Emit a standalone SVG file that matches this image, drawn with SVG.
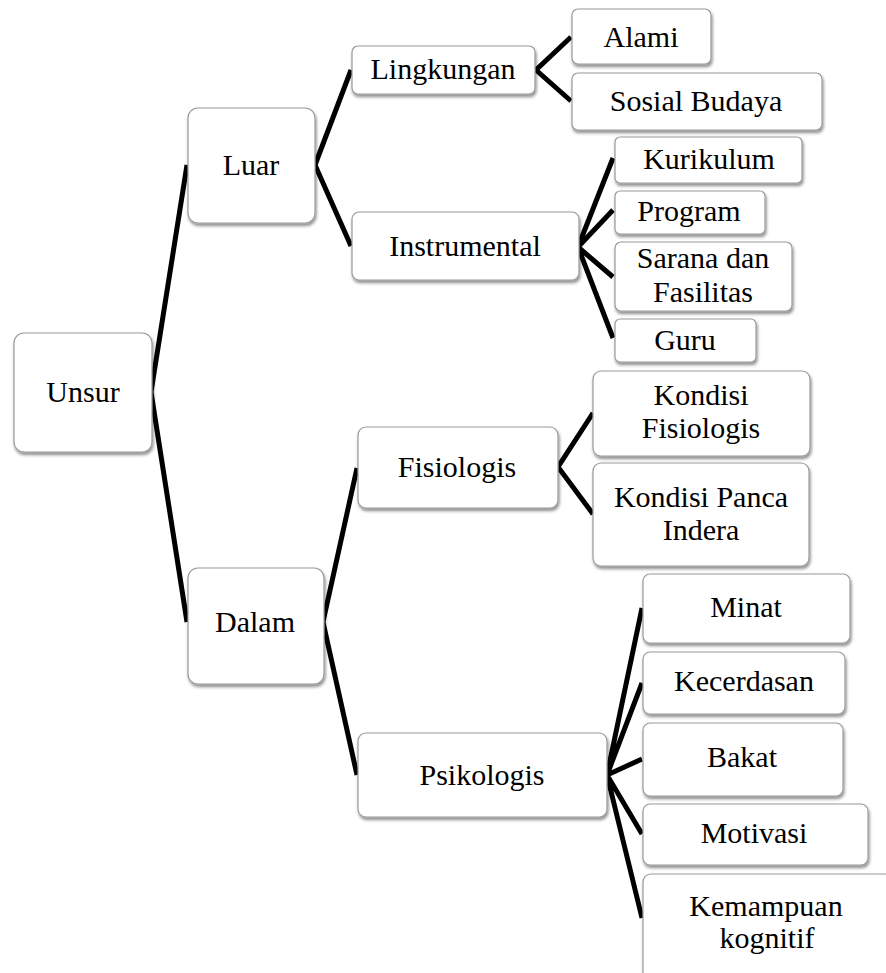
<svg xmlns="http://www.w3.org/2000/svg" width="886" height="973" viewBox="0 0 886 973">
<defs>
<filter id="sh" x="-10%" y="-10%" width="130%" height="140%">
<feDropShadow dx="1" dy="2.5" stdDeviation="1.5" flood-color="#000" flood-opacity="0.45"/>
</filter>
<style>
.b{fill:#fff;stroke:#9a9a9a;stroke-width:1.2;filter:url(#sh)}
text{font-family:'Liberation Serif','Times New Roman','DejaVu Serif',serif;font-size:30px;fill:#000;text-anchor:middle}
.c{fill:none;stroke:#000;stroke-width:5;stroke-linejoin:miter}
</style>
</defs>
<rect width="886" height="973" fill="#fff"/>
<g id="connectors">
<path class="c" d="M187 165 L151 392 L187 622"/>
<path class="c" d="M351 70 L315 165 L351 246"/>
<path class="c" d="M357 468 L323 622 L357 775"/>
<path class="c" d="M571 37 L536 70 L571 101"/>
<path class="c" d="M613 158 L578 247 L613 210 M578 247 L613 277 M578 247 L613 338"/>
<path class="c" d="M593 413 L558 467 L593 514"/>
<path class="c" d="M642 608 L607 775 L642 683 M607 775 L642 759 M607 775 L642 834 M607 775 L642 918"/>
</g>
<g id="n-unsur"><rect class="b" x="14" y="333" width="138" height="119" rx="10"/><text font-family="Liberation Serif, serif" x="83" y="402">Unsur</text></g>
<g id="n-luar"><rect class="b" x="188" y="108" width="127" height="115" rx="10"/><text x="251" y="175">Luar</text></g>
<g id="n-dalam"><rect class="b" x="188" y="568" width="136" height="116" rx="10"/><text x="255" y="632">Dalam</text></g>
<g id="n-lingkungan"><rect class="b" x="352" y="46" width="183" height="48" rx="6"/><text x="443" y="79">Lingkungan</text></g>
<g id="n-instrumental"><rect class="b" x="352" y="212" width="227" height="68" rx="7"/><text x="465" y="256">Instrumental</text></g>
<g id="n-alami"><rect class="b" x="572" y="9" width="139" height="55" rx="6"/><text x="641" y="47">Alami</text></g>
<g id="n-sosial"><rect class="b" x="572" y="73" width="250" height="57" rx="6"/><text x="696" y="111">Sosial Budaya</text></g>
<g id="n-kurikulum"><rect class="b" x="615" y="137" width="187" height="46" rx="5"/><text x="709" y="169">Kurikulum</text></g>
<g id="n-program"><rect class="b" x="615" y="191" width="150" height="43" rx="5"/><text x="689" y="221">Program</text></g>
<g id="n-sarana"><rect class="b" x="615" y="242" width="177" height="69" rx="6"/><text x="703" y="268">Sarana dan</text><text x="703" y="302">Fasilitas</text></g>
<g id="n-guru"><rect class="b" x="615" y="319" width="141" height="43" rx="5"/><text x="685" y="350">Guru</text></g>
<g id="n-fisiologis"><rect class="b" x="358" y="427" width="200" height="81" rx="8"/><text x="457" y="477">Fisiologis</text></g>
<g id="n-kondisi-fis"><rect class="b" x="593" y="371" width="217" height="85" rx="8"/><text x="701" y="405">Kondisi</text><text x="701" y="438">Fisiologis</text></g>
<g id="n-kondisi-panca"><rect class="b" x="593" y="463" width="216" height="103" rx="8"/><text x="701" y="507">Kondisi Panca</text><text x="701" y="540">Indera</text></g>
<g id="n-psikologis"><rect class="b" x="358" y="733" width="249" height="84" rx="8"/><text x="482" y="785">Psikologis</text></g>
<g id="n-minat"><rect class="b" x="643" y="574" width="207" height="69" rx="7"/><text x="746" y="617">Minat</text></g>
<g id="n-kecerdasan"><rect class="b" x="643" y="652" width="202" height="62" rx="7"/><text x="744" y="691">Kecerdasan</text></g>
<g id="n-bakat"><rect class="b" x="643" y="723" width="200" height="73" rx="7"/><text x="742" y="767">Bakat</text></g>
<g id="n-motivasi"><rect class="b" x="643" y="804" width="225" height="61" rx="7"/><text x="754" y="843">Motivasi</text></g>
<g id="n-kemampuan"><rect class="b" x="643" y="874" width="250" height="115" rx="8"/><text x="766" y="916">Kemampuan</text><text x="767" y="948">kognitif</text></g>
</svg>
